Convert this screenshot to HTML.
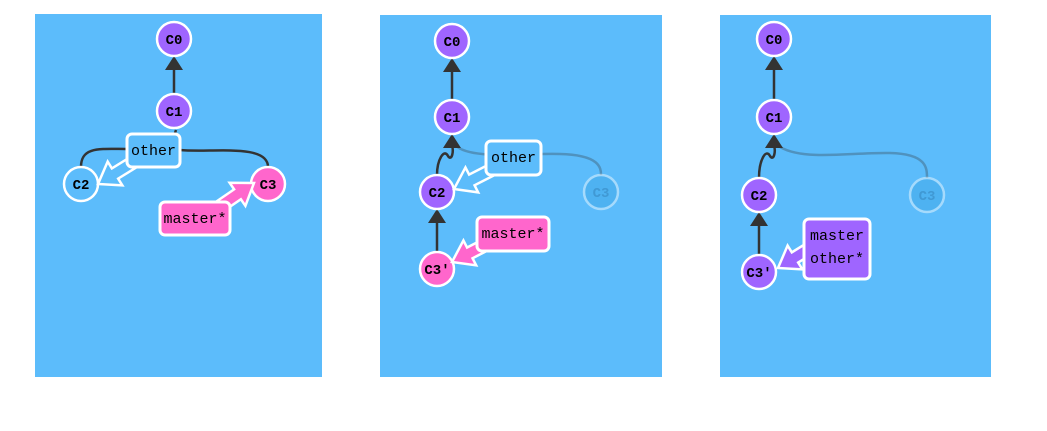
<!DOCTYPE html>
<html><head><meta charset="utf-8"><style>
html,body{margin:0;padding:0;background:#fff;width:1047px;height:431px;overflow:hidden}
svg text{font-family:"Liberation Mono","DejaVu Sans Mono",monospace;}
</style></head><body>
<svg id="svg" width="1047" height="431" xmlns="http://www.w3.org/2000/svg">
<rect x="35" y="14" width="287" height="363" fill="#5cbcfb"/>
<rect x="380" y="15" width="282" height="362" fill="#5cbcfb"/>
<rect x="720" y="15" width="271" height="362" fill="#5cbcfb"/>
<g id="edges"></g><g id="nodes"></g><g id="labels"></g>
</svg>
<script>
const NS="http://www.w3.org/2000/svg";
const nodeNames=["C0","C1","C2","C3","C0","C1","C2","C3'","C3","C0","C1","C2","C3'","C3"];
const nodeX=[174,174,81,268,452,452,437,437,601,774,774,759,759,927];
const nodeY=[39,111,184,184,41,117,192,269,192,39,117,195,272,195];
const nodeFill=["#9f65ff","#9f65ff","#5cbcfb","#ff66cc","#9f65ff","#9f65ff","#9f65ff","#ff66cc","#3fa8e6","#9f65ff","#9f65ff","#9f65ff","#9f65ff","#3fa8e6"];
const nodeFaded=[0,0,0,0,0,0,0,0,1,0,0,0,0,1];
const edges=[
 {d:"M174,94 L174,70",arrow:[174,56],op:1},
 {d:"M81,167 C81,146 100,149 128,149 M180,150 C210,153 268,143 268,167",arrow:null,op:1},
 {d:"M174,136 L176,130",arrow:null,op:1},
 {d:"M452,100 L452,72",arrow:[452,58],op:1},
 {d:"M437,175 C437,160 444,148 448,156 C452,162 454,150 452,146",arrow:[452,134],op:1},
 {d:"M437,252 L437,223",arrow:[437,209],op:1},
 {d:"M455,145 C470,160 520,153 560,154 C600,155 601,168 601,175",arrow:null,op:0.3},
 {d:"M774,100 L774,70",arrow:[774,56],op:1},
 {d:"M759,178 C759,160 766,148 770,156 C774,162 776,150 774,146",arrow:[774,134],op:1},
 {d:"M759,255 L759,226",arrow:[759,212],op:1},
 {d:"M777,145 C800,162 850,152 890,153 C927,154 927,168 927,178",arrow:null,op:0.3}
];
const labelText=[["other"],["master*"],["other"],["master*"],["master","other*"]];
const labelX=[127,160,486,477,804];
const labelY=[134,202,141,217,219];
const labelW=[53,70,55,72,66];
const labelH=[33,33,34,34,60];
const labelFill=["#5cbcfb","#ff66cc","#5cbcfb","#ff66cc","#9f65ff"];
const ptrFrom=[[145,155],[200,220],[505,163],[495,240],[815,245]];
const ptrTo=[[98,184],[254,183],[454,189],[452,262],[778,268]];

const E=document.getElementById('edges'),N=document.getElementById('nodes'),L=document.getElementById('labels');
function mk(t,a,p){const e=document.createElementNS(NS,t);for(const k in a)e.setAttribute(k,a[k]);p.appendChild(e);return e;}
edges.forEach((ed,i)=>{
 const g=mk('g',{opacity:ed.op},E);
 
 
 mk('path',{d:ed.d,fill:'none',stroke:'#333','stroke-width':2.5},g);
 if(ed.arrow){const [x,y]=ed.arrow;mk('polygon',{points:`${x},${y} ${x-9},${y+14} ${x+9},${y+14}`,fill:'#333'},g);}
});
nodeNames.forEach((n,i)=>{
 const g=mk('g',{opacity:nodeFaded[i]?0.45:1},N);
 
 
 mk('circle',{cx:nodeX[i],cy:nodeY[i],r:17,fill:nodeFill[i],stroke:'#fff','stroke-width':2.5},g);
 const t=mk('text',{x:nodeX[i],y:nodeY[i]+5,'text-anchor':'middle','font-size':14,'font-weight':'bold',fill:nodeFaded[i]?'#1f6fa5':'#000'},g);
 t.textContent=n;
});
labelText.forEach((lines,i)=>{
 const g=mk('g',{},L);
 
 
 const [fx,fy]=ptrFrom[i],[tx,ty]=ptrTo[i];
 const dx=tx-fx,dy=ty-fy,len=Math.hypot(dx,dy),ux=dx/len,uy=dy/len,px=-uy,py=ux;
 const hl=20,sw=6,hw=14,bx=tx-ux*hl,by=ty-uy*hl;
 const pts=[[fx+px*sw,fy+py*sw],[bx+px*sw,by+py*sw],[bx+px*hw,by+py*hw],[tx,ty],[bx-px*hw,by-py*hw],[bx-px*sw,by-py*sw],[fx-px*sw,fy-py*sw]];
 mk('polygon',{points:pts.map(p=>p.join(',')).join(' '),fill:labelFill[i],stroke:'#fff','stroke-width':2.5,'stroke-linejoin':'miter'},g);
 mk('rect',{x:labelX[i],y:labelY[i],width:labelW[i],height:labelH[i],rx:5,fill:labelFill[i],stroke:'#fff','stroke-width':3},g);
 lines.forEach((s,j)=>{
  const t=mk('text',{x:labelX[i]+labelW[i]/2,y:labelY[i]+21+j*23,'text-anchor':'middle','font-size':15,fill:'#000'},g);
  t.textContent=s;
 });
});
</script>
</body></html>
